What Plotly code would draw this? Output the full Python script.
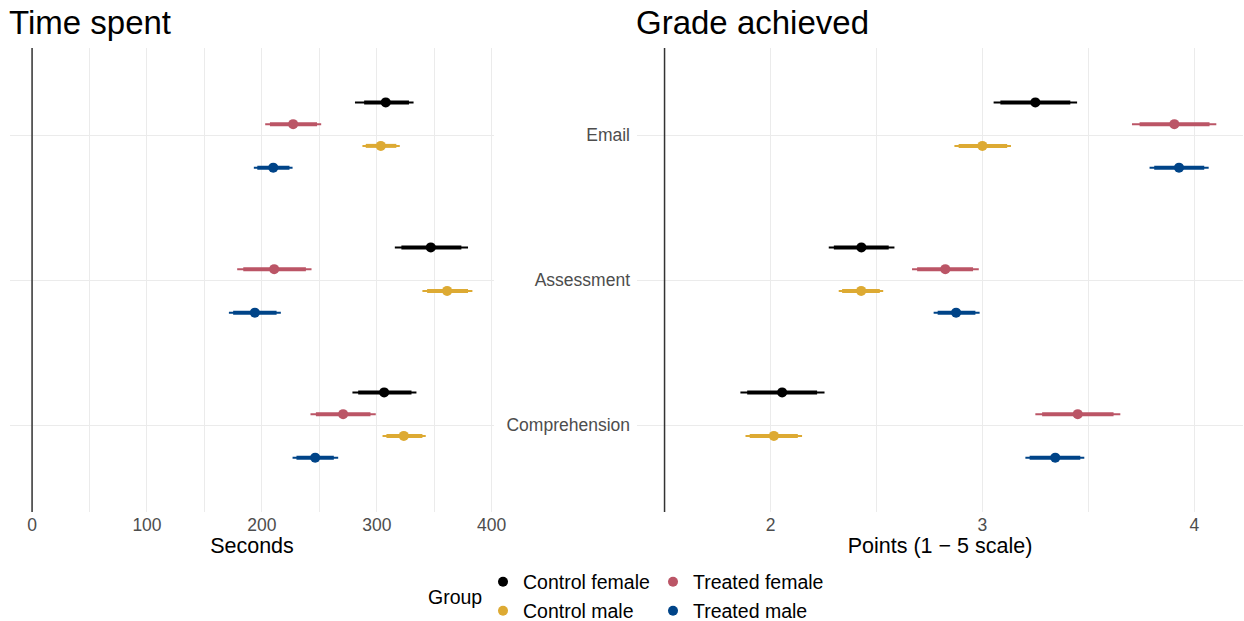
import plotly.graph_objects as go

W, H = 1244, 621

categories = ["Email", "Assessment", "Comprehension"]
groups = ["Control female", "Treated female", "Control male", "Treated male"]
colors = ["#000000", "#BB5566", "#DDAA33", "#004488"]

# Time spent (seconds); rows = groups, columns = categories
sec_mid = [[307.8, 347.0, 306.4], [227.2, 210.7, 270.7], [303.5, 361.2, 323.5], [209.9, 193.9, 246.4]]
sec_lo66 = [[289.0, 321.4, 283.8], [207.0, 183.8, 247.0], [290.4, 343.8, 308.4], [196.0, 175.0, 230.1]]
sec_hi66 = [[328.0, 373.6, 330.2], [248.0, 238.3, 294.5], [317.0, 379.4, 339.7], [224.0, 212.8, 262.6]]
sec_lo95 = [[281.0, 315.7, 278.8], [202.9, 178.5, 242.3], [287.5, 339.7, 305.0], [193.0, 171.3, 226.7]]
sec_hi95 = [[332.0, 379.4, 334.5], [251.6, 243.2, 299.1], [320.0, 383.2, 342.6], [226.7, 216.5, 266.4]]

# Grade achieved (points, 1-5 scale)
pts_mid = [[3.250, 2.429, 2.055], [3.906, 2.825, 3.450], [3.000, 2.428, 2.016], [3.928, 2.876, 3.344]]
pts_lo66 = [[3.085, 2.299, 1.890], [3.742, 2.692, 3.282], [2.888, 2.338, 1.902], [3.811, 2.789, 3.223]]
pts_hi66 = [[3.415, 2.558, 2.220], [4.072, 2.956, 3.619], [3.117, 2.516, 2.129], [4.047, 2.967, 3.462]]
pts_lo95 = [[3.053, 2.275, 1.858], [3.706, 2.668, 3.250], [2.868, 2.322, 1.882], [3.789, 2.770, 3.203]]
pts_hi95 = [[3.447, 2.585, 2.255], [4.104, 2.983, 3.651], [3.135, 2.532, 2.149], [4.068, 2.987, 3.481]]

FONT = "Liberation Sans, Arial, sans-serif"
GRID = "#EBEBEB"
TICK = "#4D4D4D"


def segs(lo, hi):
    xs, ys = [], []
    for a, b, c in zip(lo, hi, categories):
        xs += [a, b, None]
        ys += [c, c, None]
    return xs, ys


fig = go.Figure()
legend_names = ["legend", "legend2", "legend3", "legend4"]

panels = [
    ("x", "y", sec_mid, sec_lo66, sec_hi66, sec_lo95, sec_hi95, True),
    ("x2", "y2", pts_mid, pts_lo66, pts_hi66, pts_lo95, pts_hi95, False),
]

for xa, ya, mid, lo66, hi66, lo95, hi95, show in panels:
    for gi in reversed(range(len(groups))):
        g = groups[gi]
        col = colors[gi]
        xs, ys = segs(lo95[gi], hi95[gi])
        fig.add_trace(go.Scatter(x=xs, y=ys, mode="lines", orientation="h",
                                 line=dict(color=col, width=2), offsetgroup=g,
                                 xaxis=xa, yaxis=ya, showlegend=False, hoverinfo="skip"))
        xs, ys = segs(lo66[gi], hi66[gi])
        fig.add_trace(go.Scatter(x=xs, y=ys, mode="lines", orientation="h",
                                 line=dict(color=col, width=4), offsetgroup=g,
                                 xaxis=xa, yaxis=ya, showlegend=False, hoverinfo="skip"))
        fig.add_trace(go.Scatter(x=mid[gi], y=categories, mode="markers", orientation="h",
                                 marker=dict(color=col, size=10), offsetgroup=g,
                                 name=g, xaxis=xa, yaxis=ya, showlegend=show,
                                 legend=legend_names[gi]))

pt = 48
pb = 512
ph = pb - pt


def px2paper_y(py):
    return (pb - py) / ph


axis_common = dict(showline=False, zeroline=False, ticks="", ticklen=0,
                   tickfont=dict(size=17.5, color=TICK, family=FONT),
                   gridcolor=GRID, gridwidth=1, automargin=False)

fig.update_layout(
    width=W, height=H,
    margin=dict(l=0, r=0, t=pt, b=H - pb, autoexpand=False),
    paper_bgcolor="white", plot_bgcolor="white",
    font=dict(family=FONT, color="black"),
    scattermode="group", scattergap=0.4,
    xaxis=dict(domain=[10 / W, 494 / W], range=[-19.2, 402], tickvals=[0, 100, 200, 300, 400],
               minor=dict(tickvals=[50, 150, 250, 350], showgrid=True, gridcolor=GRID, gridwidth=0.8),
               title=dict(text="Seconds", font=dict(size=21.5, color="black"), standoff=2),
               anchor="y", **axis_common),
    yaxis=dict(domain=[0, 1], type="category", categoryorder="array",
               categoryarray=categories[::-1], range=[-0.6, 2.6],
               showticklabels=False, anchor="x", **axis_common),
    xaxis2=dict(domain=[637 / W, 1243 / W], range=[1.37, 4.23], tickvals=[2, 3, 4],
                minor=dict(tickvals=[1.5, 2.5, 3.5], showgrid=True, gridcolor=GRID, gridwidth=0.8),
                title=dict(text="Points (1 \u2212 5 scale)", font=dict(size=21.5, color="black"), standoff=2),
                anchor="y2", **axis_common),
    yaxis2=dict(domain=[0, 1], type="category", categoryorder="array",
                categoryarray=categories[::-1], range=[-0.6, 2.6],
                showticklabels=True, anchor="x2", ticklabelstandoff=6, **axis_common),
)

# legends: one per group laid out in two columns
leg_pos = [(483, 582), (653, 582), (483, 611), (653, 611)]
for name, (lx, ly) in zip(legend_names, leg_pos):
    fig.update_layout({name: dict(x=lx / W, y=px2paper_y(ly), xanchor="left", yanchor="middle",
                                  xref="paper", yref="paper", orientation="v",
                                  bgcolor="rgba(0,0,0,0)", borderwidth=0,
                                  font=dict(size=19.5, color="black", family=FONT),
                                  itemclick=False, itemdoubleclick=False)})

# reference lines
fig.add_shape(type="line", xref="x", yref="y domain", x0=0, x1=0, y0=0, y1=1,
              line=dict(color="#333333", width=1.5), layer="above")
fig.add_shape(type="line", xref="x2", yref="y2 domain", x0=1.5, x1=1.5, y0=0, y1=1,
              line=dict(color="#333333", width=1.5), layer="above")

# panel titles and legend title
fig.add_annotation(text="Time spent", x=7 / W, y=px2paper_y(23), xref="paper", yref="paper",
                   xanchor="left", yanchor="middle", showarrow=False,
                   font=dict(size=33, color="black", family=FONT))
fig.add_annotation(text="Grade achieved", x=634 / W, y=px2paper_y(23), xref="paper", yref="paper",
                   xanchor="left", yanchor="middle", showarrow=False,
                   font=dict(size=33, color="black", family=FONT))
fig.add_annotation(text="Group", x=426 / W, y=px2paper_y(597), xref="paper", yref="paper",
                   xanchor="left", yanchor="middle", showarrow=False,
                   font=dict(size=19.5, color="black", family=FONT))

fig.write_html("out.html")
